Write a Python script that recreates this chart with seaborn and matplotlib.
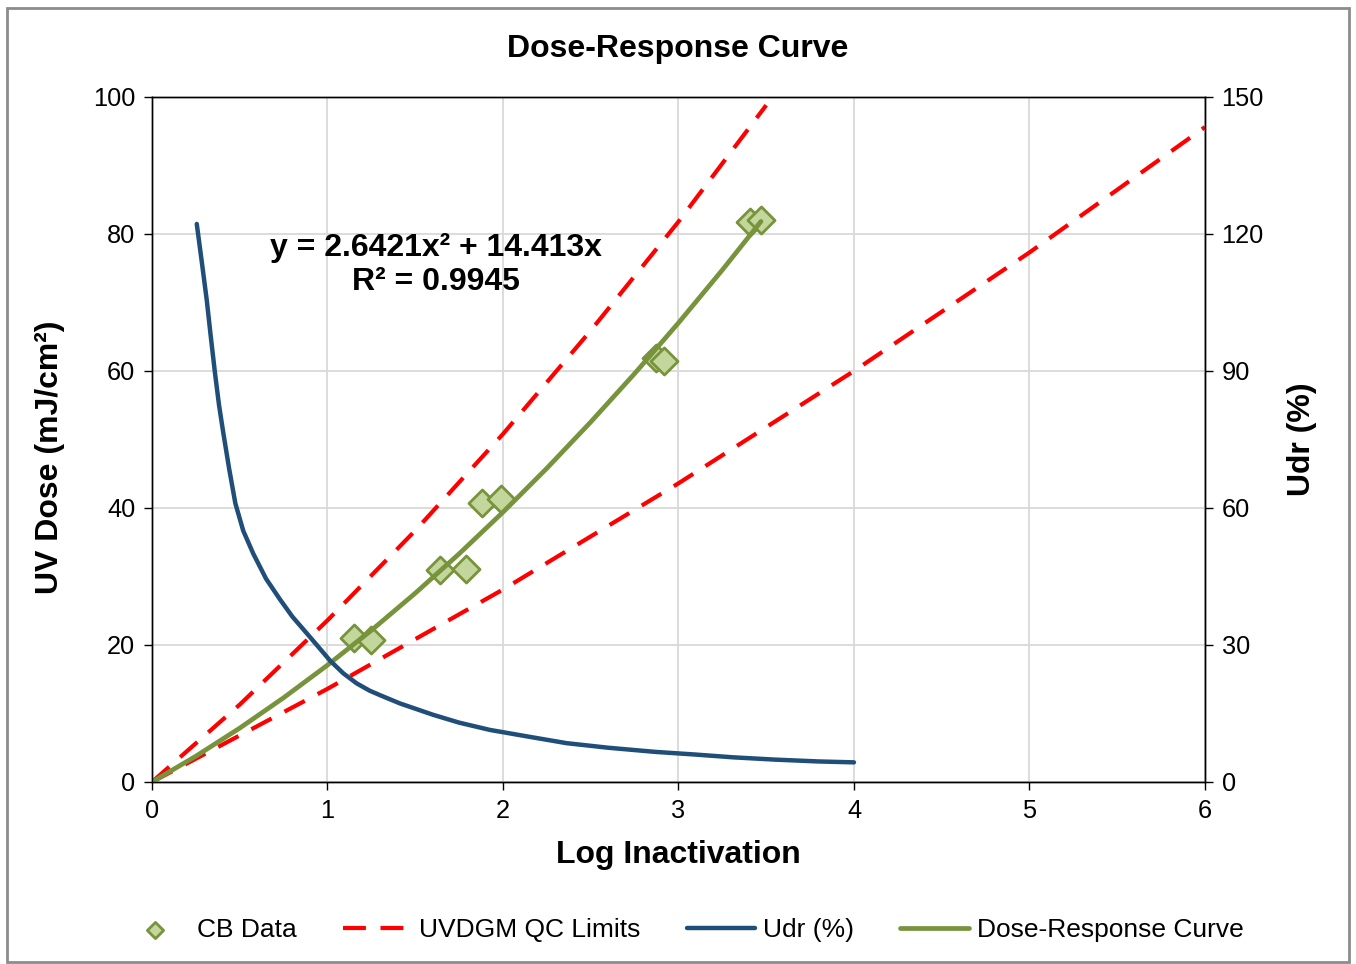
import numpy as np
import pandas as pd
import seaborn as sns
import matplotlib.pyplot as plt
from matplotlib.patches import Rectangle

# CB data points (log inactivation, UV dose)
cb_x = [1.15, 1.25, 1.64, 1.79, 1.88, 1.99, 2.87, 2.92, 3.41, 3.47]
cb_y = [21.0, 20.7, 30.9, 31.1, 40.8, 41.3, 61.9, 61.4, 81.8, 82.1]

# UVDGM QC limits
qc_upper_x = [0, 0.5, 1, 1.5, 2, 2.5, 3, 3.5]
qc_upper_y = [0, 11.3, 23.6, 36.7, 50.8, 65.9, 81.8, 98.8]
qc_lower_x = [0, 1, 2, 3, 4, 5, 6]
qc_lower_y = [0, 13.6, 28.1, 43.6, 60.0, 77.3, 95.6]

# Udr (%) on right axis
udr_x = [0.255, 0.285, 0.312, 0.335, 0.359, 0.382, 0.406, 0.44, 0.475, 0.52, 0.577, 0.65,
         0.729, 0.8, 0.881, 0.95, 1.014, 1.09, 1.166, 1.24, 1.3, 1.413, 1.603, 1.75, 1.926, 2.15,
         2.363, 2.6, 2.866, 3.1, 3.312, 3.55, 3.797, 4.0]
udr_y = [122.2, 113.5, 105.5, 97.5, 89.5, 82.5, 76.5, 68.5, 61.0, 55.0, 50.0, 44.5,
         40.0, 36.2, 32.6, 29.5, 26.6, 23.8, 21.6, 20.0, 19.0, 17.2, 14.7, 13.0, 11.4, 9.9,
         8.5, 7.5, 6.6, 6.0, 5.4, 4.9, 4.5, 4.3]

# dose-response fit curve
fit_x = [0, 0.25, 0.5, 0.75, 1, 1.25, 1.5, 1.75, 2, 2.25, 2.5, 2.75, 3, 3.25, 3.47]
fit_y = [0, 3.77, 7.87, 12.30, 17.06, 22.14, 27.56, 33.31, 39.39, 45.80, 52.55, 59.62, 67.02, 74.75, 81.83]

sns.set_theme(style="white")
plt.rcParams['font.family'] = ['Liberation Sans', 'DejaVu Sans']
plt.rcParams.update({"text.color": "black", "axes.labelcolor": "black",
                     "xtick.color": "black", "ytick.color": "black"})

fig = plt.figure(figsize=(13.56, 9.64), dpi=100)
ax = fig.add_axes([0.1121, 0.1888, 0.7765, 0.7106])

green = "#77933C"
red = "#FF0000"
blue = "#1F4E79"

sns.lineplot(x=qc_upper_x, y=qc_upper_y, ax=ax, color=red, linewidth=3, linestyle=(0, (5.5, 3.5)),
             label="UVDGM QC Limits", zorder=3)
sns.lineplot(x=qc_lower_x, y=qc_lower_y, ax=ax, color=red, linewidth=3, linestyle=(0, (5.5, 3.5)),
             zorder=3)
sns.scatterplot(x=cb_x, y=cb_y, ax=ax, marker="D", s=190, color="#C3D69B", edgecolor=green,
                linewidth=2, label="CB Data", zorder=4)
sns.lineplot(x=fit_x, y=fit_y, ax=ax, color=green, linewidth=3.4, label="Dose-Response Curve", zorder=5)

ax.set_xlim(0, 6)
ax.set_ylim(0, 100)
ax.set_xticks(range(0, 7))
ax.set_yticks(range(0, 101, 20))
ax.grid(True, color="#D9D9D9", linewidth=1.3)
ax.set_axisbelow(True)
for s in ax.spines.values():
    s.set_color("black")
    s.set_linewidth(1)
ax.tick_params(direction="out", length=6, width=1, color="black", labelsize=18.3, pad=6, left=True, bottom=True)
ax.set_xlabel("Log Inactivation", fontsize=23, fontweight="bold", va="center")
ax.xaxis.set_label_coords(0.5, -0.106)
ax.set_ylabel("UV Dose (mJ/cm²)", fontsize=23, fontweight="bold", va="center")
ax.yaxis.set_label_coords(-0.097, 0.474)

ax2 = ax.twinx()
sns.lineplot(x=udr_x, y=udr_y, ax=ax2, color=blue, linewidth=3.2, label="Udr (%)")
ax2.set_ylim(0, 150)
ax2.set_yticks(range(0, 151, 30))
ax2.tick_params(direction="out", length=6, width=1, color="black", labelsize=18.3, pad=6, right=True)
ax2.set_ylabel("Udr (%)", fontsize=23, fontweight="bold", va="center")
ax2.yaxis.set_label_coords(1.092, 0.5)
for s in ax2.spines.values():
    s.set_color("black")
    s.set_linewidth(1)
ax2.grid(False)

ax.text(1.62, 75.5, "y = 2.6421x² + 14.413x\nR² = 0.9945", ha="center", va="center",
        fontsize=23, fontweight="bold", linespacing=1.2, zorder=6)

fig.suptitle("Dose-Response Curve", x=0.5, y=0.949, fontsize=23, fontweight="bold", va="center")

# legend from both axes
h1, l1 = ax.get_legend_handles_labels()
h2, l2 = ax2.get_legend_handles_labels()
hd = dict(zip(l1 + l2, h1 + h2))
ax.get_legend().remove()
ax2.get_legend().remove()
order = ["CB Data", "UVDGM QC Limits", "Udr (%)", "Dose-Response Curve"]
leg = fig.legend([hd[k] for k in order], order, loc="center", bbox_to_anchor=(0.503, 0.035), ncol=4,
                 frameon=False, fontsize=19, handlelength=2.6, columnspacing=1.74, handletextpad=0.3,
                 markerscale=0.6)

fig.patches.append(Rectangle((0.005, 0.002), 0.99, 0.99, transform=fig.transFigure, fill=False,
                             edgecolor="#8C8C8C", linewidth=2))

fig.savefig("out.png", dpi=100)
